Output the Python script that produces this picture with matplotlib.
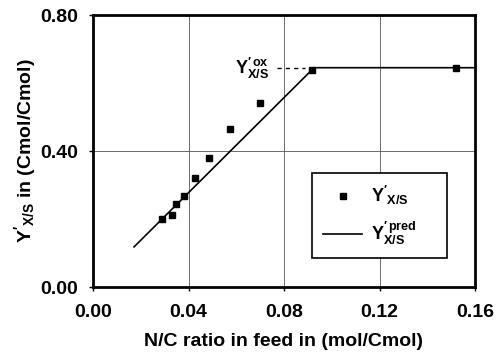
import matplotlib
matplotlib.use("Agg")
import matplotlib.pyplot as plt

plt.rcParams['font.family'] = ['Liberation Sans', 'DejaVu Sans']
plt.rcParams['font.weight'] = 'bold'
plt.rcParams['mathtext.fontset'] = 'custom'
plt.rcParams['mathtext.rm'] = 'Liberation Sans:bold'
plt.rcParams['mathtext.bf'] = 'Liberation Sans:bold'
plt.rcParams['mathtext.it'] = 'Liberation Sans:bold'

# Measured data
nc_meas = [0.0288, 0.0330, 0.0348, 0.0381, 0.0426, 0.0486, 0.0574, 0.0701, 0.0917, 0.1519]
y_meas = [0.200, 0.212, 0.243, 0.269, 0.321, 0.379, 0.465, 0.542, 0.639, 0.645]

# Predicted line
nc_pred = [0.0172, 0.0926, 0.160]
y_pred = [0.118, 0.645, 0.645]

# Dashed max-yield marker
nc_ox = [0.0770, 0.0890]
y_ox = [0.645, 0.645]

xticks = [0.00, 0.04, 0.08, 0.12, 0.16]
yticks = [0.00, 0.40, 0.80]

fig = plt.figure(figsize=(4.96, 3.59), dpi=100)
ax = fig.add_axes([93/496, 1-287/359, 382/496, 272/359])

ax.plot(nc_meas, y_meas, 's', color='black', markersize=4.5, label=r"$\mathbf{Y'_{X/S}}$", zorder=3)
ax.plot(nc_pred, y_pred, '-', color='black', linewidth=1.2, label=r"$\mathbf{Y}^{\prime\,\mathbf{pred}}_{\mathbf{X/S}}$", zorder=3)
ax.plot(nc_ox, y_ox, '--', color='black', linewidth=1.0, dashes=(3, 3))
ax.text(0.0668, 0.643, r"$\mathbf{Y}^{\prime\,\mathbf{ox}}_{\mathbf{X/S}}$", fontsize=13,
        ha='center', va='center')

ax.set_xlim(0, 0.16)
ax.set_ylim(0, 0.80)
ax.set_xticks(xticks)
ax.set_yticks(yticks)
ax.set_xticklabels([f"{v:.2f}" for v in xticks], fontsize=14, fontweight='bold')
ax.set_yticklabels([f"{v:.2f}" for v in yticks], fontsize=14, fontweight='bold')
ax.grid(True, color='#555555', linewidth=0.6)
ax.set_axisbelow(True)
for s in ax.spines.values():
    s.set_linewidth(2.0)
ax.tick_params(direction='out', length=3, width=1.0)
ax.tick_params(axis='x', pad=9)
ax.tick_params(axis='y', pad=8)

ax.set_xlabel("N/C ratio in feed in (mol/Cmol)", fontsize=14, fontweight='bold', labelpad=9)
ax.set_ylabel(r"$\mathbf{Y'_{X/S}}$ in (Cmol/Cmol)", fontsize=14, fontweight='bold', labelpad=1)

leg = ax.legend(loc='lower left', bbox_to_anchor=(0.573, 0.107, 0.353, 0.2), mode='expand',
                borderaxespad=0, fontsize=13, frameon=True,
                fancybox=False, edgecolor='black', framealpha=1, handlelength=2.2,
                borderpad=0.6, labelspacing=0.7, handletextpad=0.5)
leg.get_frame().set_linewidth(1.2)

fig.savefig("out.png", dpi=100)
